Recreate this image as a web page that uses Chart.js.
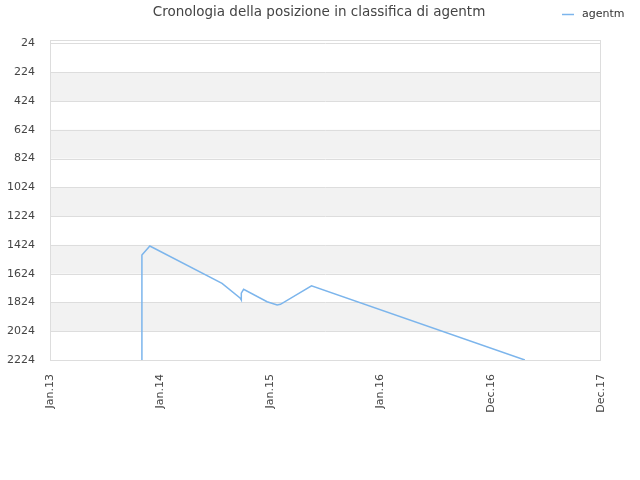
<!DOCTYPE html>
<html lang="it">
<head>
    <meta charset="UTF-8">
    <title>Cronologia della posizione in classifica di agentm</title>
    <script src="https://cdn.jsdelivr.net/npm/chart.js"></script>
    <style>
        body {
            margin: 0;
            padding: 0;
            background: #ffffff;
        }
    </style>
</head>
<body>
    <canvas id="rankChart" width="640" height="480"></canvas>

    <script>
        // Etichette dell'asse x (una per posizione intera)
        const xLabels = ["Jan.13", "Jan.14", "Jan.15", "Jan.16", "Dec.16", "Dec.17"];

        // Tick dell'asse y (posizione in classifica)
        const yTicks = [24, 224, 424, 624, 824, 1024, 1224, 1424, 1624, 1824, 2024, 2224];

        // Serie: posizione x (in unità di etichetta) e posizione in classifica
        const seriesX = [0.834, 0.834, 0.906, 1.561, 1.727, 1.736, 1.736, 1.757, 1.970, 2.061, 2.091, 2.373, 4.309];
        const seriesY = [2224, 1494, 1432, 1691, 1795, 1807, 1760, 1733, 1819, 1842, 1837, 1708, 2224];

        const seriesName = "agentm";
        const chartTitle = "Cronologia della posizione in classifica di agentm";

        const FONT = "'DejaVu Sans', sans-serif";

        // Bande alternate, bordo, titolo e legenda
        const decorPlugin = {
            id: "decor",
            beforeDatasetsDraw(chart) {
                const ctx = chart.ctx;
                const area = chart.chartArea;
                const y = chart.scales.y;
                ctx.save();
                ctx.fillStyle = "#f2f2f2";
                for (let i = 1; i < yTicks.length - 1; i += 2) {
                    const top = y.getPixelForValue(yTicks[i]);
                    const bottom = y.getPixelForValue(yTicks[i + 1]);
                    ctx.fillRect(area.left, top, area.right - area.left, bottom - top);
                }
                ctx.strokeStyle = "#dddddd";
                ctx.lineWidth = 1;
                yTicks.forEach(v => {
                    const py = Math.round(y.getPixelForValue(v)) + 0.5;
                    ctx.beginPath();
                    ctx.moveTo(area.left, py);
                    ctx.lineTo(area.right, py);
                    ctx.stroke();
                });
                ctx.strokeRect(area.left + 0.5, area.top + 0.5, area.right - area.left - 1, area.bottom - area.top);
                ctx.restore();
            },
            afterDraw(chart) {
                const ctx = chart.ctx;
                ctx.save();
                ctx.fillStyle = "#444444";
                ctx.font = "13.5px " + FONT;
                ctx.textAlign = "center";
                ctx.textBaseline = "middle";
                ctx.fillText(chartTitle, 319, 12);

                ctx.strokeStyle = "#7cb5ec";
                ctx.lineWidth = 1.5;
                ctx.beginPath();
                ctx.moveTo(562, 14.5);
                ctx.lineTo(574, 14.5);
                ctx.stroke();
                ctx.fillStyle = "#333333";
                ctx.font = "11px " + FONT;
                ctx.textAlign = "left";
                ctx.fillText(seriesName, 582, 14);
                ctx.restore();
            }
        };

        const ctx = document.getElementById("rankChart").getContext("2d");

        new Chart(ctx, {
            type: "line",
            data: {
                datasets: [{
                    label: seriesName,
                    data: seriesX.map((x, i) => ({ x: x, y: seriesY[i] })),
                    borderColor: "#7cb5ec",
                    backgroundColor: "#7cb5ec",
                    borderWidth: 1.5,
                    pointRadius: 0,
                    tension: 0,
                    fill: false
                }]
            },
            options: {
                responsive: false,
                animation: false,
                layout: {
                    padding: { top: 40, right: 39, left: 0, bottom: 0 }
                },
                plugins: {
                    legend: { display: false },
                    title: { display: false },
                    tooltip: { enabled: false }
                },
                scales: {
                    x: {
                        type: "linear",
                        min: 0,
                        max: xLabels.length - 1,
                        afterBuildTicks(scale) {
                            scale.ticks = xLabels.map((_, i) => ({ value: i }));
                        },
                        afterFit(scale) {
                            scale.height = 120;
                        },
                        grid: { display: false },
                        border: { display: false },
                        ticks: {
                            autoSkip: false,
                            minRotation: 90,
                            maxRotation: 90,
                            padding: 6,
                            color: "#444444",
                            font: { family: FONT, size: 11 },
                            callback: value => xLabels[value]
                        }
                    },
                    y: {
                        type: "linear",
                        reverse: true,
                        min: 0,
                        max: 2224,
                        afterBuildTicks(scale) {
                            scale.ticks = yTicks.map(v => ({ value: v }));
                        },
                        afterFit(scale) {
                            scale.width = 50;
                        },
                        grid: { display: false },
                        border: { display: false },
                        ticks: {
                            autoSkip: false,
                            padding: 7,
                            color: "#444444",
                            font: { family: FONT, size: 11 },
                            callback: value => String(value)
                        }
                    }
                }
            },
            plugins: [decorPlugin]
        });
    </script>
</body>
</html>
